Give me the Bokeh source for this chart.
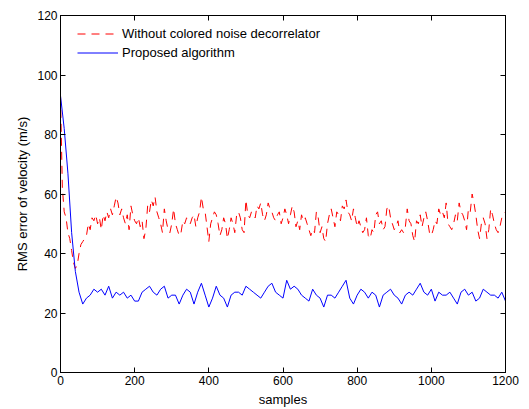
import numpy as np
from bokeh.plotting import figure
from bokeh.models import (LinearAxis, Range1d, FixedTicker, Legend, LegendItem,
                          CustomLabelingPolicy)
from bokeh.embed import file_html
from bokeh.resources import INLINE

# ---- data ----
series_labels = ["Without colored noise decorrelator", "Proposed algorithm"]

red_step = 5  # samples between values
red_vals = [
    93, 62, 54, 52, 47, 45, 41, 37, 35, 36, 40, 43, 44, 45, 46, 50, 48, 52, 51, 53,
    50, 52, 48, 53, 51, 54, 52, 55, 53, 56, 59, 57, 53, 55, 52, 50, 53, 48, 56, 53,
    51, 50, 52, 49, 51, 45, 48, 56, 54, 58, 56, 59, 54, 52, 50, 47, 55, 51, 48, 47,
    50, 55, 50, 48, 46, 47, 51, 50, 52, 51, 50, 52, 53, 49, 52, 54, 59, 55, 54, 49,
    44, 50, 52, 54, 53, 50, 46, 48, 52, 50, 45, 48, 52, 50, 47, 53, 54, 52, 48, 47,
    58, 53, 52, 54, 53, 52, 56, 55, 57, 53, 51, 53, 57, 55, 54, 52, 51, 53, 54, 50,
    52, 55, 53, 50, 53, 56, 54, 49, 51, 48, 53, 51, 52, 50, 48, 46, 48, 47, 54, 52,
    47, 49, 45, 44, 50, 53, 55, 52, 49, 54, 53, 51, 56, 55, 58, 54, 53, 51, 55, 52,
    49, 51, 49, 47, 48, 52, 46, 45, 48, 47, 53, 54, 50, 51, 48, 49, 55, 56, 52, 50,
    48, 49, 51, 47, 48, 47, 49, 55, 51, 50, 46, 44, 51, 50, 53, 49, 52, 54, 51, 47,
    46, 48, 51, 50, 55, 53, 54, 52, 57, 50, 49, 48, 50, 53, 51, 57, 54, 53, 51, 48,
    55, 54, 60, 57, 53, 48, 45, 50, 52, 50, 45, 48, 55, 53, 50, 48, 47, 49, 52, 53,
    54,
]

blue_step = 10
blue_vals = [
    93, 82, 67, 47, 34, 27, 23, 25, 26, 28,
    27, 28, 26, 29, 25, 27, 26, 27, 25, 26,
    24, 24, 27, 28, 29, 27, 26, 28, 29, 25,
    26, 26, 23, 26, 28, 27, 23, 27, 30, 26,
    22, 25, 29, 26, 25, 22, 26, 27, 27, 26,
    29, 28, 27, 26, 25, 27, 29, 30, 27, 26,
    25, 31, 28, 29, 28, 26, 25, 24, 28, 26,
    25, 22, 26, 26, 25, 27, 29, 31, 25, 23,
    26, 28, 27, 25, 27, 26, 22, 26, 27, 28,
    26, 25, 23, 26, 27, 26, 28, 30, 27, 26,
    28, 24, 27, 26, 26, 27, 25, 23, 27, 28,
    26, 27, 24, 25, 28, 27, 26, 26, 25, 27,
    24,
]

x_ticks = [0, 200, 400, 600, 800, 1000, 1200]
y_ticks = [0, 20, 40, 60, 80, 100, 120]
x_label = "samples"
y_label = "RMS error of velocity (m/s)"

red_x = [i * red_step for i in range(len(red_vals))]
blue_x = [i * blue_step for i in range(len(blue_vals))]

FONT = "Liberation Sans"
TICK_FS = "12px"
LABEL_FS = "13px"

p = figure(width=529, height=409, output_backend="svg", toolbar_location=None,
           x_range=Range1d(0, 1200), y_range=Range1d(0, 120),
           min_border_left=60, min_border_right=24, min_border_top=15, min_border_bottom=36,
           x_axis_label=x_label, y_axis_label=y_label)

p.xgrid.visible = False
p.ygrid.visible = False
p.outline_line_color = "black"
p.outline_line_alpha = 1.0
p.outline_line_width = 1
p.background_fill_color = "white"
p.border_fill_color = "white"

for ax in p.xaxis:
    ax.ticker = FixedTicker(ticks=x_ticks)
for ax in p.yaxis:
    ax.ticker = FixedTicker(ticks=y_ticks)

for ax in list(p.xaxis) + list(p.yaxis):
    ax.major_tick_in = 5
    ax.major_tick_out = 0
    ax.minor_tick_in = 0
    ax.minor_tick_out = 0
    ax.axis_line_color = "black"
    ax.major_tick_line_color = "black"
    ax.major_label_text_font = FONT
    ax.major_label_text_font_size = TICK_FS
    ax.major_label_text_color = "black"
    ax.axis_label_text_font = FONT
    ax.axis_label_text_font_size = LABEL_FS
    ax.axis_label_text_font_style = "normal"
    ax.axis_label_text_color = "black"
    ax.major_label_standoff = 3
    ax.axis_label_standoff = 4


def tick_only_axis(ticks):
    # box ticks on the opposite sides, without any labels
    return LinearAxis(ticker=FixedTicker(ticks=ticks), major_label_text_font_size="0px",
                      major_label_policy=CustomLabelingPolicy(code="return new Set()"),
                      major_tick_in=5, major_tick_out=0, minor_tick_in=0, minor_tick_out=0,
                      axis_line_color="black", major_tick_line_color="black",
                      major_label_standoff=0)


p.add_layout(tick_only_axis(x_ticks), "above")
p.add_layout(tick_only_axis(y_ticks), "right")

r_red = p.line(red_x, red_vals, line_color="#ff0000", line_width=1, line_dash="8 6")
r_blue = p.line(blue_x, blue_vals, line_color="#0000ff", line_width=1)

legend = Legend(items=[LegendItem(label=series_labels[0], renderers=[r_red]),
                       LegendItem(label=series_labels[1], renderers=[r_blue])],
                location=(17, 310))
legend.background_fill_alpha = 0
legend.border_line_alpha = 0
legend.padding = 0
legend.margin = 0
legend.spacing = 0
legend.glyph_width = 41
legend.glyph_height = 19
legend.label_height = 19
legend.label_standoff = 4
legend.label_text_font = FONT
legend.label_text_font_size = LABEL_FS
legend.label_text_color = "black"
p.add_layout(legend)

open("out.html", "w").write(file_html(p, INLINE))
